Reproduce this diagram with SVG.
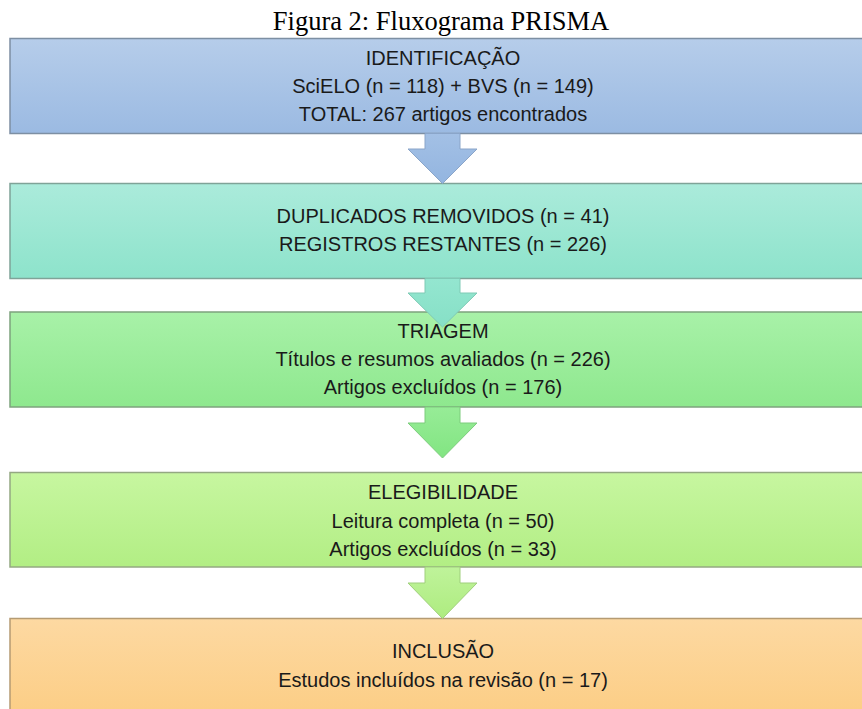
<svg xmlns="http://www.w3.org/2000/svg" width="862" height="709" viewBox="0 0 862 709">
<style>
.t{font-family:"Liberation Sans",Arial,sans-serif;font-size:20px;fill:#1a1a1a;text-anchor:middle}
.title{font-family:"Liberation Serif","Times New Roman",serif;font-size:26.5px;fill:#000;text-anchor:middle}
.box{stroke-width:1.5}
.arr{stroke-width:1}
</style>
<defs>
<linearGradient id="g1" x1="0" y1="0" x2="0" y2="1"><stop offset="0" stop-color="#b6cdea"/><stop offset="1" stop-color="#9bbae2"/></linearGradient>
<linearGradient id="g2" x1="0" y1="0" x2="0" y2="1"><stop offset="0" stop-color="#abebdb"/><stop offset="1" stop-color="#8de3cb"/></linearGradient>
<linearGradient id="g3" x1="0" y1="0" x2="0" y2="1"><stop offset="0" stop-color="#a8f1a8"/><stop offset="1" stop-color="#8ee88e"/></linearGradient>
<linearGradient id="g4" x1="0" y1="0" x2="0" y2="1"><stop offset="0" stop-color="#c7f6a0"/><stop offset="1" stop-color="#b2ee84"/></linearGradient>
<linearGradient id="g5" x1="0" y1="0" x2="0" y2="1"><stop offset="0" stop-color="#fdd9a2"/><stop offset="1" stop-color="#fccd84"/></linearGradient>
<linearGradient id="a1" x1="0" y1="0" x2="0" y2="1"><stop offset="0" stop-color="#a3c0e5"/><stop offset="1" stop-color="#93b5e0"/></linearGradient>
<linearGradient id="a2" x1="0" y1="0" x2="0" y2="1"><stop offset="0" stop-color="#94e6d0"/><stop offset="1" stop-color="#86e0c6"/></linearGradient>
<linearGradient id="a3" x1="0" y1="0" x2="0" y2="1"><stop offset="0" stop-color="#97ec97"/><stop offset="1" stop-color="#82e582"/></linearGradient>
<linearGradient id="a4" x1="0" y1="0" x2="0" y2="1"><stop offset="0" stop-color="#bff39a"/><stop offset="1" stop-color="#aeec80"/></linearGradient>
</defs>
<rect width="862" height="709" fill="#ffffff"/>
<text class="title" x="441" y="30">Figura 2: Fluxograma PRISMA</text>
<g id="identificacao">
<rect class="box" x="10" y="38.5" width="860" height="95" fill="url(#g1)" stroke="#7d8fa3"/>
<text class="t" x="443" y="65">IDENTIFICAÇÃO</text>
<text class="t" x="443" y="93">SciELO (n = 118) + BVS (n = 149)</text>
<text class="t" x="443" y="121">TOTAL: 267 artigos encontrados</text>
</g>
<g id="duplicados">
<rect class="box" x="10" y="183.5" width="860" height="95" fill="url(#g2)" stroke="#7fa398"/>
<text class="t" x="443" y="223">DUPLICADOS REMOVIDOS (n = 41)</text>
<text class="t" x="443" y="251">REGISTROS RESTANTES (n = 226)</text>
</g>
<g id="triagem">
<rect class="box" x="10" y="312" width="860" height="95" fill="url(#g3)" stroke="#7ea27e"/>
<text class="t" x="443" y="338">TRIAGEM</text>
<text class="t" x="443" y="366">Títulos e resumos avaliados (n = 226)</text>
<text class="t" x="443" y="394">Artigos excluídos (n = 176)</text>
</g>
<g id="elegibilidade">
<rect class="box" x="10" y="472.5" width="860" height="94.5" fill="url(#g4)" stroke="#94a882"/>
<text class="t" x="443" y="499">ELEGIBILIDADE</text>
<text class="t" x="443" y="528">Leitura completa (n = 50)</text>
<text class="t" x="443" y="556">Artigos excluídos (n = 33)</text>
</g>
<g id="inclusao">
<rect class="box" x="10" y="618.5" width="860" height="100" fill="url(#g5)" stroke="#b59b73"/>
<text class="t" x="443" y="658">INCLUSÃO</text>
<text class="t" x="443" y="687">Estudos incluídos na revisão (n = 17)</text>
</g>
<g id="connectors">
<path class="arr" d="M425,133.5 L460,133.5 L460,149 L477,149 L442.5,183.5 L408,149 L425,149 Z" fill="url(#a1)" stroke="#8aa5c9"/>
<path class="arr" d="M425,278.5 L460,278.5 L460,293 L477,293 L442.5,327 L408,293 L425,293 Z" fill="url(#a2)" stroke="#7fcab5"/>
<path class="arr" d="M425,407 L460,407 L460,423 L477,423 L442.5,458 L408,423 L425,423 Z" fill="url(#a3)" stroke="#7dcc7d"/>
<path class="arr" d="M425,567 L460,567 L460,583 L477,583 L442.5,618.5 L408,583 L425,583 Z" fill="url(#a4)" stroke="#9fcf7c"/>
</g>
</svg>
